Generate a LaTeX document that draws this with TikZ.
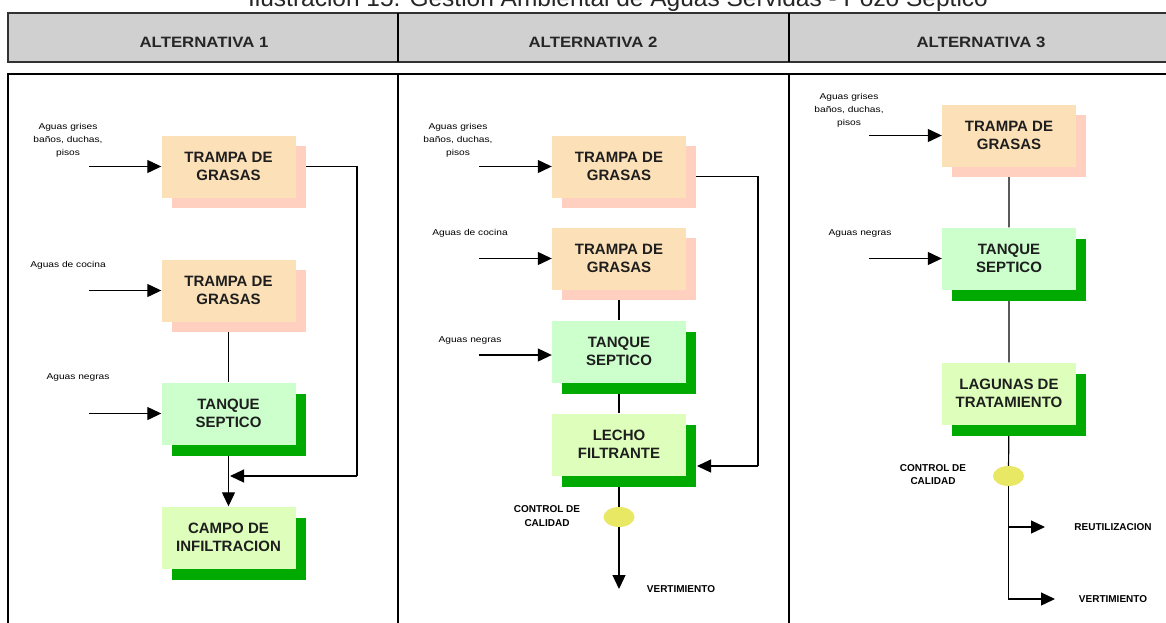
\documentclass[tikz,border=0pt]{standalone}
\usepackage{fontspec}
\setmainfont{Liberation Sans}
\newfontfamily\widesans[FakeStretch=1.2]{Liberation Sans}
\newfontfamily\headsans[FakeStretch=1.12]{Liberation Sans}
\newfontfamily\titlesans[FakeStretch=1.02]{Liberation Sans}
\usetikzlibrary{arrows.meta,shadows,backgrounds,shapes.geometric}

\definecolor{headgrey}{RGB}{208,208,208}
\definecolor{headline}{RGB}{50,50,50}
\definecolor{peach}{RGB}{252,224,184}
\definecolor{salmon}{RGB}{255,208,192}
\definecolor{mint}{RGB}{204,255,204}
\definecolor{lime}{RGB}{221,255,187}
\definecolor{leafgreen}{RGB}{0,170,0}
\definecolor{qcyellow}{RGB}{232,232,100}
\definecolor{boxtext}{RGB}{30,30,30}

\begin{document}
\begin{tikzpicture}[x=1pt,y=-1pt,
  unitbox/.style={minimum width=134pt, minimum height=62pt, inner sep=0pt,
    align=center, text=boxtext, font=\fontsize{15}{18}\selectfont\bfseries},
  grease/.style={unitbox, fill=peach,
    general shadow={fill=salmon, shadow xshift=10pt, shadow yshift=-10pt}},
  tank/.style={unitbox, fill=mint,
    general shadow={fill=leafgreen, shadow xshift=10pt, shadow yshift=-11pt}},
  treat/.style={unitbox, fill=lime,
    general shadow={fill=leafgreen, shadow xshift=10pt, shadow yshift=-11pt}},
  inlabel/.style={align=center, inner sep=0pt, font=\widesans\fontsize{8.5}{13}\selectfont},
  outlabel/.style={align=center, inner sep=0pt, font=\fontsize{10}{13.5}\selectfont\bfseries},
  qc/.style={ellipse, fill=qcyellow, minimum width=31pt, minimum height=20pt, inner sep=0pt},
  pipe/.style={line width=1.2pt, black},
  flow/.style={pipe, -{Triangle[length=14pt,width=13pt]}},
  headtext/.style={font=\headsans\fontsize{15}{15}\selectfont\bfseries, text=black!85}
]
\useasboundingbox (0,0) rectangle (1166,622);
\begin{scope}[on background layer]
  \fill[white] (0,0) rectangle (1166,622);
\end{scope}
\clip (0,0) rectangle (1166,622);

% caption line (partly above the page)
\node[anchor=base, inner sep=0pt, font=\titlesans\fontsize{24}{24}\selectfont, text=black!85]
  (title) at (618,6.5) {Ilustración 15. Gestión Ambiental de Aguas Servidas - Pozo Séptico};

% header row
\draw[headline, line width=1.6pt, fill=headgrey] (8,13) rectangle (1175,62);
\draw[line width=1.8pt, black] (398,13) -- (398,62) (789,13) -- (789,62);
\node[headtext] (h1) at (204,42) {ALTERNATIVA 1};
\node[headtext] (h2) at (593,42) {ALTERNATIVA 2};
\node[headtext] (h3) at (981,42) {ALTERNATIVA 3};

% body frame
\draw[line width=1.5pt, black] (8,74) rectangle (1175,630);
\draw[line width=2pt, black] (398,74) -- (398,630) (789,74) -- (789,630);

% ---------- Alternativa 1 ----------
\node[grease] (a1g1) at (228.5,166.5) {TRAMPA DE\\GRASAS};
\node[grease] (a1g2) at (228.5,290.5) {TRAMPA DE\\GRASAS};
\node[tank]   (a1s)  at (228.5,413.5) {TANQUE\\SEPTICO};
\node[treat]  (a1c)  at (228.5,537.5) {CAMPO DE\\INFILTRACION};

\node[inlabel] (a1l1) at (68,140.5) {Aguas grises\\baños, duchas,\\pisos};
\node[inlabel] (a1l2) at (68,265) {Aguas de cocina};
\node[inlabel] (a1l3) at (78,377) {Aguas negras};

\coordinate (a1i1) at (89,166.5);
\coordinate (a1i2) at (89,290.5);
\coordinate (a1i3) at (89,413.5);
\coordinate (a1r)  at (357,476);
\coordinate (a1j)  at (230,476);

% ---------- Alternativa 2 ----------
\node[grease] (a2g1) at (619,166.5) {TRAMPA DE\\GRASAS};
\node[grease] (a2g2) at (619,258.5) {TRAMPA DE\\GRASAS};
\node[tank]   (a2s)  at (619,351.5) {TANQUE\\SEPTICO};
\node[treat]  (a2l)  at (619,444.5) {LECHO\\FILTRANTE};
\node[qc]     (a2q)  at (619,517) {};

\node[inlabel] (a2l1) at (458,140.5) {Aguas grises\\baños, duchas,\\pisos};
\node[inlabel] (a2l2) at (470,233) {Aguas de cocina};
\node[inlabel] (a2l3) at (470,340) {Aguas negras};
\node[outlabel] (a2cc) at (547,516) {CONTROL DE\\CALIDAD};
\node[outlabel] (a2v)  at (681,589) {VERTIMIENTO};

\coordinate (a2i1) at (479,166.5);
\coordinate (a2i2) at (479,258.5);
\coordinate (a2i3) at (479,355);
\coordinate (a2r)  at (758,466);
\coordinate (a2t)  at (697,466);
\coordinate (a2o)  at (619,589);

% ---------- Alternativa 3 ----------
\node[grease] (a3g)  at (1009,135.5) {TRAMPA DE\\GRASAS};
\node[tank]   (a3s)  at (1009,258.5) {TANQUE\\SEPTICO};
\node[treat]  (a3t)  at (1009,393.5) {LAGUNAS DE\\TRATAMIENTO};
\node[qc]     (a3q)  at (1008.5,476) {};

\node[inlabel] (a3l1) at (849,110) {Aguas grises\\baños, duchas,\\pisos};
\node[inlabel] (a3l2) at (860,233) {Aguas negras};
\node[outlabel] (a3cc) at (933,474.5) {CONTROL DE\\CALIDAD};
\node[outlabel] (a3re) at (1113,527) {REUTILIZACION};
\node[outlabel] (a3v)  at (1113,599) {VERTIMIENTO};

\coordinate (a3i1) at (869,135.5);
\coordinate (a3i2) at (869,258.5);
\coordinate (a3ro) at (1045,527);
\coordinate (a3vo) at (1055,599);

% ---------- connectors ----------
\begin{scope}[on background layer]
  % Alternativa 1
  \draw[flow] (a1i1) -- (a1g1.west);
  \draw[flow] (a1i2) -- (a1g2.west);
  \draw[flow] (a1i3) -- (a1s.west);
  \draw[pipe] (a1g1.east) -| (a1r);
  \draw[flow] (a1r) -- (a1j);
  \draw[pipe] (a1g2) -- (a1s);
  \draw[flow] (a1s) -- (a1c.north);
  % Alternativa 2
  \draw[flow] (a2i1) -- (a2g1.west);
  \draw[flow] (a2i2) -- (a2g2.west);
  \draw[flow] (a2i3) -- (a2i3 -| a2s.west);
  \draw[pipe] ([yshift=-10pt]a2g1.east) -| (a2r);
  \draw[flow] (a2r) -- (a2t);
  \draw[pipe] (a2g2) -- (a2s) -- (a2l) -- (a2q);
  \draw[flow] (a2q) -- (a2o);
  % Alternativa 3
  \draw[flow] (a3i1) -- (a3g.west);
  \draw[flow] (a3i2) -- (a3s.west);
  \draw[pipe] (a3g) -- (a3s) -- (a3t) -- (a3q);
  \draw[flow] (a3q) |- (a3vo);
  \draw[flow] (a3q |- a3ro) -- (a3ro);
\end{scope}
\end{tikzpicture}
\end{document}
